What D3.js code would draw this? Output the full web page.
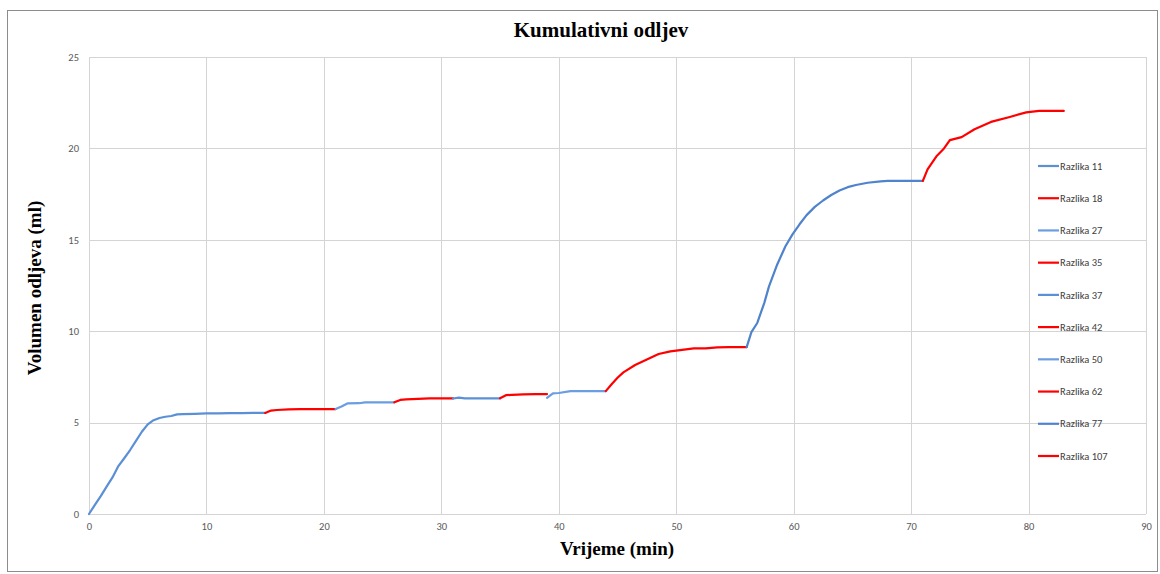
<!DOCTYPE html>
<html>
<head>
<meta charset="utf-8">
<script src="https://cdn.jsdelivr.net/npm/d3@7"></script>
<style>
  html, body { margin: 0; padding: 0; background: #fff; }
  svg { display: block; }
</style>
</head>
<body>
<svg id="chart" width="1160" height="574"></svg>
<script>
// ---- Data ----
const seriesNames = ["Razlika 11","Razlika 18","Razlika 27","Razlika 35","Razlika 37","Razlika 42","Razlika 50","Razlika 62","Razlika 77","Razlika 107"];
const seriesColors = ["#5b8fd6","#ff0000","#6a9de2","#ff0000","#5b8fd6","#ff0000","#6a9de2","#ff0000","#4f83cc","#ff0000"];

const r11 = [[0,0],[0.5,0.5],[1,0.98],[1.5,1.5],[2,2.0],[2.5,2.62],[3,3.05],[3.5,3.5],[4,4.0],[4.5,4.5],[5,4.9],[5.5,5.13],[6,5.25],[6.5,5.32],[7,5.36],[7.5,5.45],[8,5.46],[9,5.48],[10,5.5],[11,5.5],[12,5.52],[13,5.52],[14,5.53],[15,5.53]];
const r18 = [[15,5.53],[15.5,5.66],[16,5.69],[17,5.72],[18,5.74],[19,5.74],[20,5.74],[21,5.74]];
const r27 = [[21,5.74],[21.5,5.88],[22,6.05],[23,6.06],[23.5,6.11],[24,6.11],[25,6.11],[26,6.11]];
const r35 = [[26,6.11],[26.5,6.24],[27,6.27],[28,6.3],[29,6.32],[30,6.32],[31,6.32]];
const r37 = [[31,6.32],[31.5,6.37],[32,6.33],[33,6.33],[34,6.33],[35,6.33]];
const r42 = [[35,6.33],[35.5,6.5],[36,6.52],[37,6.54],[38,6.56],[39,6.56]];
const r50 = [[39,6.35],[39.5,6.6],[40,6.62],[41,6.72],[42,6.72],[43,6.72],[44,6.72]];
const r62 = [[44,6.72],[44.5,7.1],[45,7.45],[45.5,7.75],[46.5,8.15],[47.5,8.45],[48.5,8.75],[49.5,8.9],[50.5,8.98],[51.5,9.06],[52.5,9.06],[53.5,9.12],[54.5,9.13],[56,9.13]];
const r77 = [[56,9.13],[56.4,9.95],[56.9,10.45],[57.5,11.55],[57.9,12.45],[58.6,13.65],[59.3,14.65],[59.9,15.3],[60.5,15.85],[61.1,16.35],[61.8,16.8],[62.5,17.15],[63.2,17.45],[63.9,17.7],[64.6,17.88],[65.3,18.0],[66.3,18.12],[67.4,18.2],[68,18.22],[69,18.22],[70,18.22],[71,18.22]];
const r107 = [[71,18.22],[71.4,18.85],[72.2,19.6],[72.8,20.0],[73.3,20.45],[74.3,20.62],[75.4,21.05],[76.8,21.45],[78.4,21.72],[79.8,21.97],[80.9,22.05],[82,22.05],[83,22.05]];

const seriesValues = [r11, r18, r27, r35, r37, r42, r50, r62, r77, r107];

const xTicks = [0,10,20,30,40,50,60,70,80,90];
const yTicks = [0,5,10,15,20,25];

const titleText = "Kumulativni odljev";
const xTitle = "Vrijeme (min)";
const yTitle = "Volumen odljeva (ml)";

// ---- Layout ----
const svg = d3.select("#chart");
const plot = {left: 89, right: 1146, top: 57, bottom: 514};

// outer border
svg.append("rect").attr("x", 7.5).attr("y", 10.5).attr("width", 1150).attr("height", 561)
  .attr("fill", "#fff").attr("stroke", "#8c8c8c").attr("stroke-width", 1);

const x = d3.scaleLinear().domain([0, 90]).range([plot.left, plot.right]);
const y = d3.scaleLinear().domain([0, 25]).range([plot.bottom, plot.top]);

// gridlines
const grid = svg.append("g");
grid.selectAll("line.v").data(xTicks).enter().append("line")
  .attr("x1", d => Math.round(x(d)) + 0.5).attr("x2", d => Math.round(x(d)) + 0.5)
  .attr("y1", plot.top).attr("y2", plot.bottom)
  .attr("stroke", "#d4d4d4").attr("stroke-width", 1);
grid.selectAll("line.h").data(yTicks).enter().append("line")
  .attr("y1", d => Math.round(y(d)) + 0.5).attr("y2", d => Math.round(y(d)) + 0.5)
  .attr("x1", plot.left).attr("x2", plot.right)
  .attr("stroke", "#d4d4d4").attr("stroke-width", 1);

// axes (labels only)
const xAxis = d3.axisBottom(x).tickValues(xTicks).tickSize(0).tickPadding(9);
const yAxis = d3.axisLeft(y).tickValues(yTicks).tickSize(0).tickPadding(10);
const gx = svg.append("g").attr("transform", `translate(0,${plot.bottom})`).call(xAxis);
const gy = svg.append("g").attr("transform", `translate(${plot.left},0)`).call(yAxis);
[gx, gy].forEach(g => {
  g.select(".domain").remove();
  g.selectAll("text").attr("font-family", "Carlito, 'Open Sans', sans-serif")
    .attr("font-size", 10.5).attr("fill", "#595959");
});

// lines
const line = d3.line().x(d => x(d[0])).y(d => y(d[1]));
svg.append("g").selectAll("path").data(seriesValues).enter().append("path")
  .attr("d", line)
  .attr("fill", "none")
  .attr("stroke", (d, i) => seriesColors[i])
  .attr("stroke-width", 2.2)
  .attr("stroke-linejoin", "round")
  .attr("stroke-linecap", "round");

// legend
const legend = svg.append("g");
const legY = d3.scaleLinear().domain([0, 9]).range([166, 456]);
seriesNames.forEach((name, i) => {
  const g = legend.append("g").attr("transform", `translate(1038,${legY(i)})`);
  g.append("line").attr("x1", 0).attr("x2", 21).attr("y1", 0).attr("y2", 0)
    .attr("stroke", seriesColors[i]).attr("stroke-width", 2.2);
  g.append("text").attr("x", 22).attr("y", 0).attr("dy", "0.35em")
    .attr("font-family", "Carlito, 'Open Sans', sans-serif")
    .attr("font-size", 10.5).attr("fill", "#404040").text(name);
});

// titles
svg.append("text").attr("x", 601).attr("y", 37).attr("text-anchor", "middle")
  .attr("font-family", "'Liberation Serif', 'Times New Roman', serif")
  .attr("font-weight", "bold").attr("font-size", 21).attr("fill", "#000").text(titleText);
svg.append("text").attr("x", 617).attr("y", 555).attr("text-anchor", "middle")
  .attr("font-family", "'Liberation Serif', 'Times New Roman', serif")
  .attr("font-weight", "bold").attr("font-size", 19).attr("fill", "#000").text(xTitle);
svg.append("text").attr("transform", "translate(41,288) rotate(-90)").attr("text-anchor", "middle")
  .attr("font-family", "'Liberation Serif', 'Times New Roman', serif")
  .attr("font-weight", "bold").attr("font-size", 19).attr("fill", "#000").text(yTitle);
</script>
</body>
</html>
